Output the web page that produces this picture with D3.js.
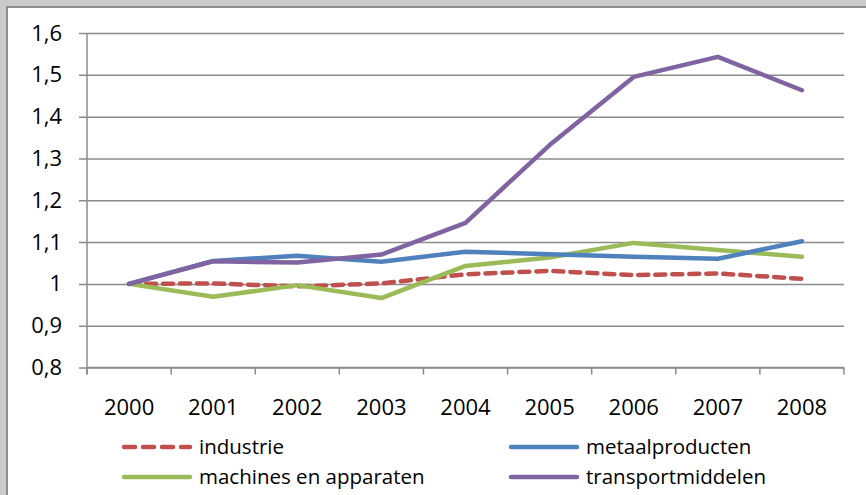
<!DOCTYPE html>
<html>
<head>
<meta charset="utf-8">
<script src="https://cdn.jsdelivr.net/npm/d3@7"></script>
<style>
  html, body { margin: 0; padding: 0; background: #fff; }
  svg { display: block; }
  text { font-family: "Open Sans", "Noto Sans", sans-serif; fill: #000; }
</style>
</head>
<body>
<svg id="chart" width="866" height="495"></svg>
<script>
// Index figures per sector, 2000 = 1
const years = ["2000", "2001", "2002", "2003", "2004", "2005", "2006", "2007", "2008"];
const industrie = [1.000, 1.001, 0.994, 1.001, 1.023, 1.031, 1.021, 1.025, 1.012];
const metaalproducten = [1.000, 1.055, 1.067, 1.053, 1.077, 1.071, 1.065, 1.060, 1.102];
const machines = [1.000, 0.969, 0.997, 0.966, 1.043, 1.063, 1.098, 1.081, 1.065];
const transportmiddelen = [1.000, 1.054, 1.051, 1.070, 1.146, 1.332, 1.495, 1.543, 1.463];
const yTicks = [0.8, 0.9, 1.0, 1.1, 1.2, 1.3, 1.4, 1.5, 1.6];

const series = [
  { name: "industrie", values: industrie, color: "#C0504D", dash: "10,7" },
  { name: "metaalproducten", values: metaalproducten, color: "#4F81BD", dash: null },
  { name: "machines en apparaten", values: machines, color: "#9BBB59", dash: null },
  { name: "transportmiddelen", values: transportmiddelen, color: "#8064A2", dash: null }
];

const svg = d3.select("#chart");

// frame along the top and left edges
svg.append("rect").attr("x", 0).attr("y", 0).attr("width", 866).attr("height", 6).attr("fill", "#cbcbcb");
svg.append("rect").attr("x", 0).attr("y", 0).attr("width", 6).attr("height", 495).attr("fill", "#cbcbcb");
svg.append("rect").attr("x", 6).attr("y", 6).attr("width", 860).attr("height", 2).attr("fill", "#8c8c8c");
svg.append("rect").attr("x", 6).attr("y", 6).attr("width", 2).attr("height", 489).attr("fill", "#8c8c8c");

const plotL = 87, plotR = 844, plotT = 33, plotB = 367.5;

const x = d3.scaleBand().domain(years).range([plotL, plotR]);
const y = d3.scaleLinear().domain([0.8, 1.6]).range([plotB, plotT]);

const fmt = v => d3.format(".1~f")(v).replace(".", ",");

// horizontal gridlines with outward tick stubs
const yAxis = d3.axisLeft(y).tickValues(yTicks).tickSize(-(plotR - plotL)).tickSizeOuter(0).tickFormat(fmt).tickPadding(25);
const gy = svg.append("g").attr("transform", `translate(${plotL},0)`).call(yAxis);
gy.select(".domain").remove();
gy.selectAll(".tick line").attr("x1", -8).attr("stroke", "#8c8c8c").attr("stroke-width", 1.5);
gy.selectAll(".tick text").attr("font-size", 22).attr("font-family", "Open Sans, sans-serif").attr("fill", "#000");

// vertical axis line
svg.append("line").attr("x1", plotL).attr("x2", plotL).attr("y1", plotT).attr("y2", plotB + 7)
  .attr("stroke", "#8c8c8c").attr("stroke-width", 1.5);

// category axis: ticks at band boundaries, labels at band centres
const xAxis = d3.axisBottom(x).tickSize(0).tickPadding(32);
const gx = svg.append("g").attr("transform", `translate(0,${plotB})`).call(xAxis);
gx.select(".domain").attr("stroke", "#8c8c8c").attr("stroke-width", 1.5)
  .attr("d", `M${plotL},0H${plotR}`);
gx.selectAll(".tick text").attr("font-size", 22).attr("font-family", "Open Sans, sans-serif").attr("fill", "#000");
const bounds = years.map(d => x(d)).concat([x(years[years.length - 1]) + x.bandwidth()]);
gx.selectAll(".bound").data(bounds).join("line")
  .attr("class", "bound")
  .attr("x1", d => d).attr("x2", d => d).attr("y1", 0).attr("y2", 7)
  .attr("stroke", "#8c8c8c").attr("stroke-width", 1.5);

// series lines
const line = d3.line()
  .x((d, i) => x(years[i]) + x.bandwidth() / 2)
  .y(d => y(d));

const drawOrder = [series[0], series[2], series[1], series[3]];
svg.append("g").selectAll("path").data(drawOrder).join("path")
  .attr("d", d => line(d.values))
  .attr("fill", "none")
  .attr("stroke", d => d.color)
  .attr("stroke-width", 4.5)
  .attr("stroke-linejoin", "round")
  .attr("stroke-linecap", "round")
  .attr("stroke-dasharray", d => d.dash);

// legend, two columns
const legendPos = [
  { x: 122, y: 447 }, { x: 509, y: 447 },
  { x: 122, y: 477 }, { x: 509, y: 477 }
];
const lg = svg.append("g").selectAll("g").data(series).join("g")
  .attr("transform", (d, i) => `translate(${legendPos[i].x},${legendPos[i].y})`);
lg.append("line")
  .attr("x1", 2).attr("x2", 68).attr("y1", 0).attr("y2", 0)
  .attr("stroke", d => d.color).attr("stroke-width", 4.5)
  .attr("stroke-linecap", "round")
  .attr("stroke-dasharray", d => d.dash ? "11,8" : null);
lg.append("text")
  .attr("x", 77).attr("y", 0).attr("dy", "0.35em")
  .attr("font-size", 20.5)
  .text(d => d.name);
</script>
</body>
</html>
